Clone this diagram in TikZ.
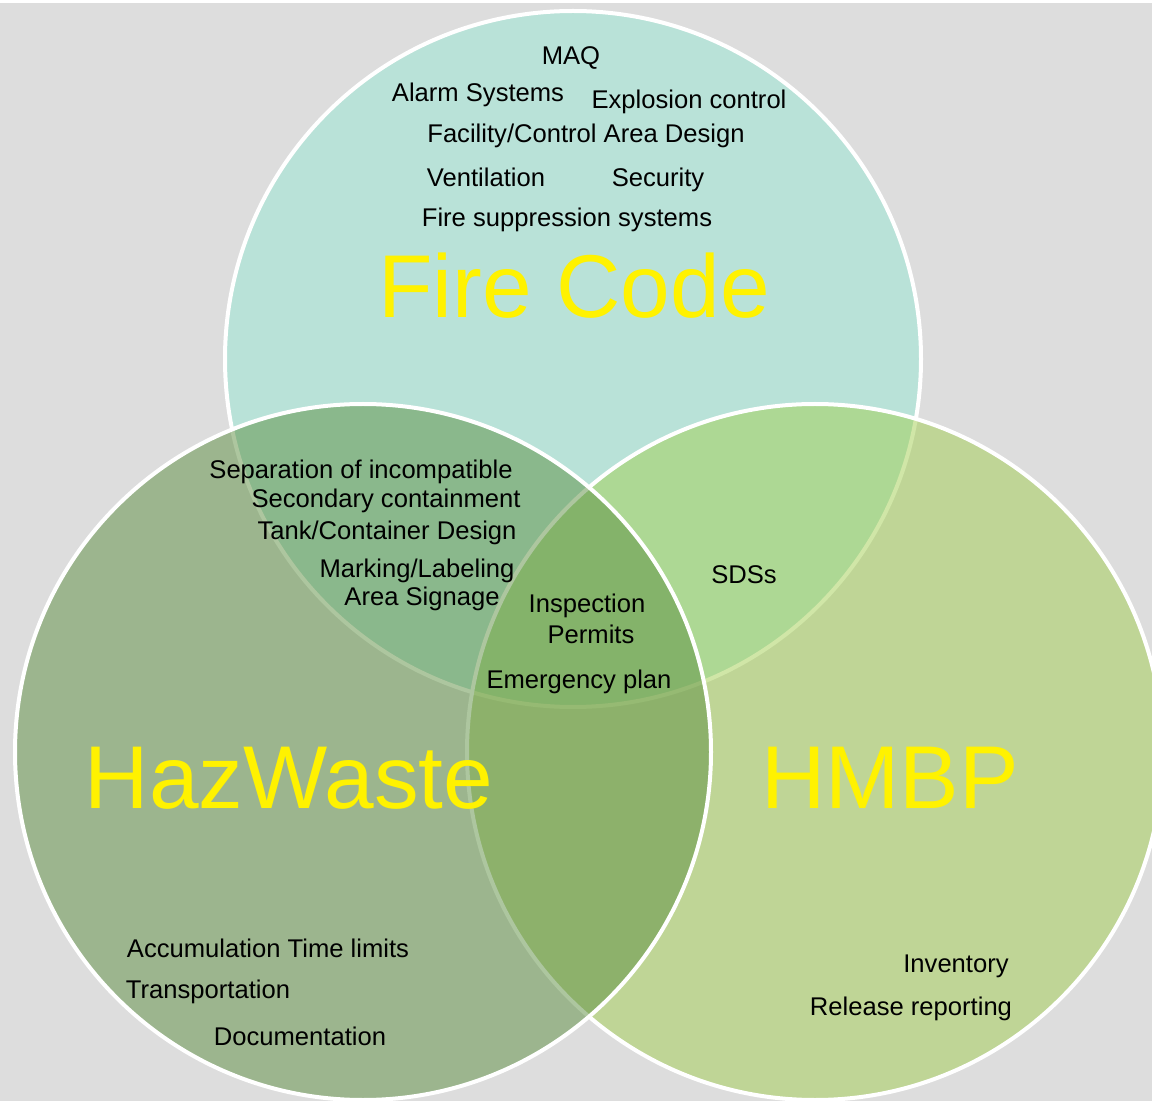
\documentclass[tikz,border=0pt]{standalone}
\usepackage{fontspec}
\setmainfont{Liberation Sans}
\definecolor{bggray}{RGB}{221,221,221}
\definecolor{firecol}{RGB}{151,231,213}
\definecolor{hmbpcol}{RGB}{163,207,81}
\definecolor{wastecol}{RGB}{93,143,65}
\begin{document}
\begin{tikzpicture}[x=0.5pt, y=-0.5pt,
setnode/.style={circle, draw=white, line width=2pt, fill opacity=0.5, minimum size=348pt, inner sep=0pt},
itemnode/.style={font=\fontsize{12.8}{15}\selectfont, anchor=base, inner sep=0pt},
titlenode/.style={font=\fontsize{44.6}{50}\selectfont, text=yellow, anchor=base, inner sep=0pt},
]
\useasboundingbox (0,0) rectangle (1152,1101);
\clip (0,0) rectangle (1152,1101);
\fill[white] (0,0) rectangle (1152,1101);
\fill[bggray] (0,3) rectangle (1152,1101);
%Sets
\node[setnode, fill=firecol](fire) at(573,359) {};
\node[setnode, fill=hmbpcol](hmbp) at(815,752) {};
\node[setnode, fill=wastecol](hazwaste) at(363,752) {};
%Titles
\node[titlenode](firetitle) at(574,318) {Fire Code};
\node[titlenode](wastetitle) at(289,808) {HazWaste};
\node[titlenode](hmbptitle) at(890,808) {HMBP};
%Fire code
\node[itemnode](maq) at(571,65) {MAQ};
\node[itemnode](alarm) at(478,102) {Alarm Systems};
\node[itemnode](explosion) at(689,109) {Explosion control};
\node[itemnode](facility) at(586,143) {Facility/Control Area Design};
\node[itemnode](ventilation) at(486,187) {Ventilation};
\node[itemnode](security) at(658,187) {Security};
\node[itemnode](suppression) at(567,227) {Fire suppression systems};
%Fire code and HazWaste
\node[itemnode](separation) at(361,479) {Separation of incompatible};
\node[itemnode](secondary) at(386,508) {Secondary containment};
\node[itemnode](tank) at(387,540) {Tank/Container Design};
\node[itemnode](marking) at(417,578) {Marking/Labeling};
\node[itemnode](signage) at(422,605) {Area Signage};
%All three
\node[itemnode](inspection) at(587,612) {Inspection};
\node[itemnode](permits) at(591,643) {Permits};
\node[itemnode](emergency) at(579,688) {Emergency plan};
%Fire code and HMBP
\node[itemnode](sds) at(744,584) {SDSs};
%HazWaste
\node[itemnode](accumulation) at(268,957) {Accumulation Time limits};
\node[itemnode](transport) at(208,998) {Transportation};
\node[itemnode](documentation) at(300,1045) {Documentation};
%HMBP
\node[itemnode](inventory) at(956,972) {Inventory};
\node[itemnode](release) at(911,1015) {Release reporting};
\end{tikzpicture}
\end{document}
